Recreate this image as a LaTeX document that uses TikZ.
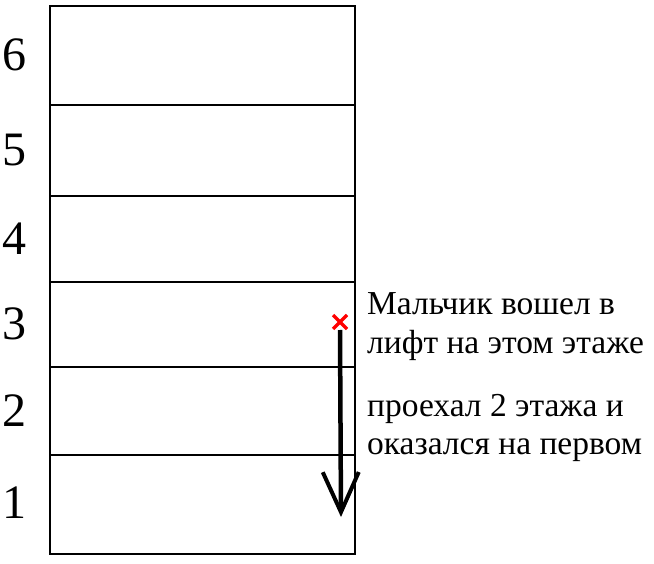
\documentclass[tikz,border=0pt]{standalone}
\usepackage{fontspec}
\setmainfont{Liberation Serif}
\usepackage{tikz}
\usetikzlibrary{arrows.meta}
\usetikzlibrary{calc}
\tikzstyle{wall}=[line width=2.6pt]
\tikzstyle{floorno}=[inner sep=0pt,font=\fontsize{48}{48}\selectfont]
\tikzstyle{note}=[inner sep=0pt,anchor=base west,font=\fontsize{33.5}{39}\selectfont]
\tikzstyle{lift}=[-{Straight Barb[length=40pt,width=36pt,line width=4pt]},line width=4.5pt]

\begin{document}
\begin{tikzpicture}[x=1pt,y=-1pt]
		\useasboundingbox (0,0) rectangle (654,564);
		\draw[wall]	(50,6)coordinate	(TL) rectangle
				(355,554)coordinate	(BR);
		\foreach \y in {105,196,282,367,455} {
			\draw[wall] (TL|-0,\y)--(BR|-0,\y);}
		\foreach \y/\t in {55/6,150/5,239/4,324/3,411/2,503/1} {
			\node[floorno] (f\t) at (14,\y) {\t};}
		\coordinate (start) at (340,322);
		\coordinate (stop) at (341,517);
		\draw[red,line width=3.5pt] ($(start)+(-7,-7)$)--($(start)+(7,7)$)
			($(start)+(-7,7)$)--($(start)+(7,-7)$);
		\draw[lift] ($(start)+(0,8)$)--(stop);
		\foreach \y/\t [count=\i] in {315/Мальчик вошел в,354/лифт на этом этаже,417/проехал 2 этажа и,454/оказался на первом} {
			\node[note] (l\i) at (367,\y) {\t};}
	\end{tikzpicture}
\end{document}
